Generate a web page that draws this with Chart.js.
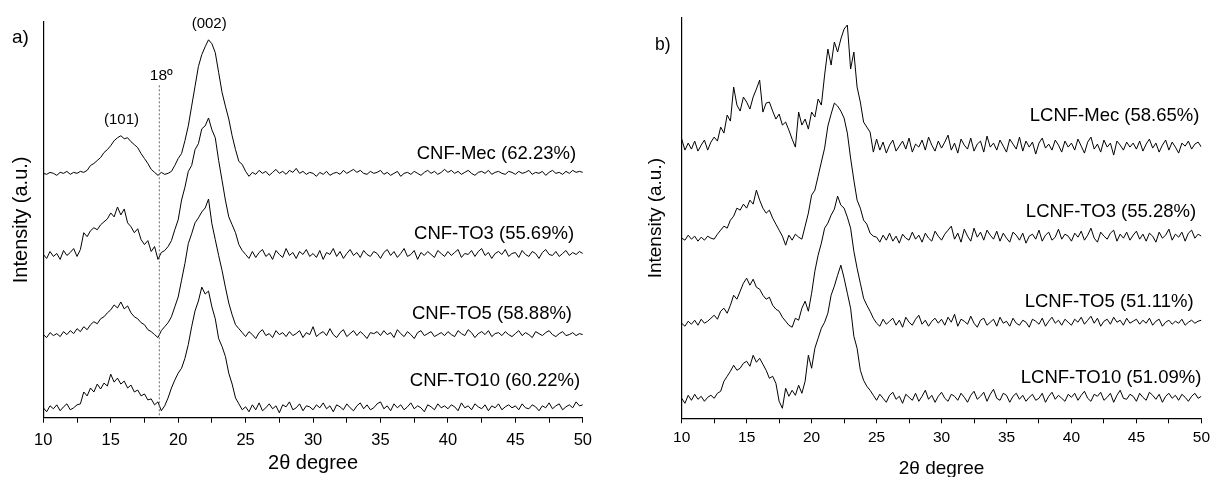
<!DOCTYPE html>
<html>
<head>
<meta charset="utf-8">
<script src="https://cdn.jsdelivr.net/npm/chart.js@4.4.0/dist/chart.umd.min.js"></script>
<style>
  body { margin: 0; background: #fff; width: 1215px; height: 477px; overflow: hidden; position: relative; }
  #wrapA { position: absolute; left: 0; top: 0; width: 600px; height: 477px; }
  #wrapB { position: absolute; left: 610px; top: 0; width: 605px; height: 477px; }
</style>
</head>
<body>
<div id="wrapA"><canvas id="xrdA"></canvas></div>
<div id="wrapB"><canvas id="xrdB"></canvas></div>
<script>
// 2-theta sampling, 10..50 deg
const twoTheta = [
  10, 10.25, 10.5, 10.75, 11, 11.25, 11.5, 11.75, 12, 12.25, 12.5, 12.75, 13, 13.25, 13.5, 13.75, 14, 14.25, 14.5, 14.75,
  15, 15.25, 15.5, 15.75, 16, 16.25, 16.5, 16.75, 17, 17.25, 17.5, 17.75, 18, 18.25, 18.5, 18.75, 19, 19.25, 19.5, 19.75,
  20, 20.25, 20.5, 20.75, 21, 21.25, 21.5, 21.75, 22, 22.25, 22.5, 22.75, 23, 23.25, 23.5, 23.75, 24, 24.25, 24.5, 24.75,
  25, 25.25, 25.5, 25.75, 26, 26.25, 26.5, 26.75, 27, 27.25, 27.5, 27.75, 28, 28.25, 28.5, 28.75, 29, 29.25, 29.5, 29.75,
  30, 30.25, 30.5, 30.75, 31, 31.25, 31.5, 31.75, 32, 32.25, 32.5, 32.75, 33, 33.25, 33.5, 33.75, 34, 34.25, 34.5, 34.75,
  35, 35.25, 35.5, 35.75, 36, 36.25, 36.5, 36.75, 37, 37.25, 37.5, 37.75, 38, 38.25, 38.5, 38.75, 39, 39.25, 39.5, 39.75,
  40, 40.25, 40.5, 40.75, 41, 41.25, 41.5, 41.75, 42, 42.25, 42.5, 42.75, 43, 43.25, 43.5, 43.75, 44, 44.25, 44.5, 44.75,
  45, 45.25, 45.5, 45.75, 46, 46.25, 46.5, 46.75, 47, 47.25, 47.5, 47.75, 48, 48.25, 48.5, 48.75, 49, 49.25, 49.5, 49.75,
  50
];
const xTicks = [10, 15, 20, 25, 30, 35, 40, 45, 50];

// panel a: intensities above each pattern's own baseline (a.u.)
const cnfMec = [
  0, -1, 1, 0, -2, 1, 0, 2, -1, 1, 0, 2, 1, 3, 8, 10, 13, 16, 21, 24,
  28, 33, 36, 38, 35, 36, 32, 29, 26, 20, 15, 10, 4, 1, -2, 1, -1, 0, 2, 8,
  15, 20, 33, 48, 68, 88, 108, 120, 128, 135, 131, 122, 102, 82, 68, 55, 38, 24, 12, 9,
  2, -3, 1, -1, 3, 0, 2, -2, 1, 4, 0, 2, -1, 3, 1, 5, 0, 2, -1, 1,
  0, -3, 1, -1, 2, -2, 0, 1, -1, 3, 0, 2, 4, 1, 3, 0, -1, 2, 0, 1,
  3, -1, 1, -2, 0, 2, -3, 0, 1, -1, 2, 0, -2, 1, 3, 0, 2, -1, 1, 4,
  1, 3, 0, 2, -1, 1, 3, 0, -2, 1, 2, 0, 3, -1, 1, 2, 0, -1, 2, 1,
  -1, 2, 0, 1, 3, -1, 1, 0, 2, -2, 1, 3, 0, 1, -1, 2, 0, 3, 1, 2,
  1
];
const cnfTo3 = [
  0, -4, 3, -2, 1, -5, 4, -1, 2, 6, -2, 5, 22, 18, 24, 27, 25, 30, 33, 36,
  42, 38, 48, 40, 46, 32, 28, 22, 26, 15, 10, 14, 3, 8, -5, 2, 4, 8, 14, 25,
  35, 55, 68, 84, 90, 106, 112, 127, 130, 138, 126, 118, 95, 75, 55, 38, 30, 22, 10, 4,
  0, -4, 3, -3, 2, 5, -2, 1, -5, 4, 0, -3, 6, -1, 2, -4, 3, 0, 5, -2,
  1, -3, 4, -5, 2, 0, 6, -2, 3, -4, 1, 5, -1, 2, -3, 4, 0, -2, 3, 1,
  -4, 2, 5, -1, 3, -3, 1, 6, -2, 0, 4, -5, 2, -1, 3, 0, -3, 4, 1, -2,
  3, -1, 2, 5, -3, 1, 0, 4, -2, 3, 6, -1, 2, -4, 1, 3, 0, 5, -2, 1,
  2, -3, 4, 0, -2, 3, 1, -4, 2, 5, 0, -1, 3, -2, 1, 4, -1, 2, 0, 3,
  1
];
const cnfTo5 = [
  0, -3, 2, -1, 1, -2, 3, 0, 4, 1, 6, 3, 8, 5, 10, 13, 11, 16, 18, 22,
  25, 30, 27, 33, 26, 29, 22, 18, 16, 12, 10, 5, 3, 0, -3, 4, 8, 12, 18, 28,
  38, 55, 72, 92, 102, 113, 118, 124, 128, 137, 112, 96, 80, 65, 48, 32, 20, 10, 6, 2,
  -2, 3, 0, -4, 2, 5, -1, 1, -3, 4, 0, 2, -2, 3, -1, 1, 4, -3, 2, 0,
  8, -2, 1, 3, -1, 6, 0, -3, 2, 5, -2, 1, 4, -1, 3, 0, -4, 2, 1, 3,
  -1, 4, 0, 2, -3, 5, 1, -2, 3, 0, -4, 2, 4, -1, 1, 3, -2, 0, 2, -1,
  3, 0, -2, 4, 1, -1, 5, 2, -3, 1, 3, 0, 4, -2, 1, 2, -1, 3, 0, -2,
  1, 4, -1, 2, 0, -3, 3, 1, -1, 2, 4, 0, -2, 1, 3, -1, 0, 2, -1, 1,
  0
];
const cnfTo10 = [
  0, -4, 2, -1, 3, -3, 1, 4, -2, 0, 3, 4, 16, 12, 20, 16, 24, 19, 25, 22,
  34, 26, 30, 24, 27, 20, 23, 16, 18, 12, 14, 8, 9, 3, 6, -3, 2, 10, 20, 28,
  35, 40, 50, 64, 82, 98, 108, 122, 115, 118, 102, 90, 70, 62, 52, 35, 24, 10, 4, -2,
  1, -4, 3, -2, 5, -3, 0, 4, -1, 2, -5, 3, 1, 6, -2, 0, 4, -3, 2, 1,
  -2, 3, 0, 5, -1, 2, -4, 3, 1, -2, 4, 0, -3, 2, 5, -1, 3, -2, 0, 4,
  6, -1, 2, -3, 4, 0, 3, -2, 1, 5, -1, 2, 0, -4, 3, 1, -2, 4, 0, 2,
  -1, 3, 1, -3, 5, 0, 2, -2, 4, 1, -1, 3, -3, 2, 0, 4, -2, 1, 3, 0,
  2, -2, 4, 0, -1, 3, 1, -3, 2, 0, 5, -1, 2, 4, -2, 1, 3, 0, 6, 2,
  3
];

// panel b
const lcnfMec = [
  8, -3, 4, -2, 6, -4, 2, 7, -3, 5, 10, 6, 20, 14, 32, 26, 60, 42, 36, 50,
  45, 38, 50, 58, 67, 35, 44, 45, 36, 28, 33, 22, 25, 17, 8, 0, 35, 22, 28, 18,
  35, 30, 48, 42, 72, 98, 82, 105, 95, 108, 118, 122, 78, 95, 60, 45, 25, 20, 15, -5,
  8, -3, 5, -6, 2, 7, -4, 1, 6, -2, 9, -5, 3, 0, 7, -3, 10, 2, -4, 6,
  -1, 5, 12, -3, 4, -6, 8, 2, -2, 9, -4, 3, 6, -5, 11, 0, 4, -3, 7, 1,
  -5, 8, 3, -2, 10, -4, 6, 0, 5, -7, 4, 9, -1, 3, -3, 7, 2, -5, 6, 0,
  4, -3, 8, 1, -6, 5, 10, -2, 3, -5, 7, 0, 4, -8, 6, 2, -3, 5, 0, 4,
  -2, 6, -4, 3, 8, -1, 4, -5, 2, 7, -3, 5, 0, -6, 4, 1, 6, -2, 3, 5,
  0
];
const lcnfTo3 = [
  0, -2, 3, -1, 2, -3, 1, -2, 2, 0, -1, 4, 8, 12, 10, 18, 22, 30, 28, 34,
  30, 38, 34, 48, 38, 30, 25, 28, 20, 14, 8, 2, -7, 3, -2, 4, 1, -1, 12, 25,
  43, 48, 62, 76, 90, 112, 124, 135, 132, 127, 120, 105, 80, 58, 38, 30, 18, 14, 5, 2,
  1, -4, 3, -2, 5, -3, 2, -5, 4, 0, -2, 6, -1, 3, -4, 5, 0, -3, 7, 2,
  -2, 4, 8, 12, -1, 5, -4, 9, 2, -3, 10, 1, 6, -2, 8, 3, -1, 7, -3, 5,
  0, -4, 6, 3, -2, 5, -5, 2, 4, -1, 8, -3, 3, 6, -2, 1, 9, -1, 4, 2,
  -3, 5, 1, 7, -2, 3, 10, 0, -4, 6, 2, -1, 5, 8, -3, 4, 0, 6, -2, 3,
  7, -1, 4, -3, 5, 2, -4, 6, 0, 3, 9, -2, 4, 1, 6, -3, 5, 8, 0, 4,
  2
];
const lcnfTo5 = [
  0, -3, 2, -1, 3, -2, 4, 0, 2, 5, 8, 4, 12, 15, 10, 18, 28, 24, 32, 40,
  45, 38, 44, 36, 34, 28, 24, 26, 18, 14, 12, 6, 2, -2, -4, 5, 3, 15, 22, 12,
  30, 52, 68, 80, 95, 100, 108, 114, 127, 118, 115, 106, 95, 72, 55, 40, 25, 18, 12, 5,
  0, -3, 4, -1, 2, 5, -2, 3, -4, 6, 1, -2, 4, 8, -1, 3, -3, 2, 5, 0,
  4, -2, 6, 1, 9, -3, 4, 2, -1, 7, 0, -4, 3, 5, -2, 1, 4, -3, 6, 0,
  2, -3, 5, 0, -2, 3, 1, -4, 4, 2, -1, 5, -3, 2, 6, 0, 3, -2, 4, 1,
  -2, 4, 1, 6, -1, 3, 7, 0, 5, -3, 2, 4, -1, 6, 1, 3, -2, 5, 0, 2,
  4, -1, 3, 0, 5, -2, 2, 4, -3, 1, 3, -1, 2, 0, 4, -2, 1, 3, 0, 2,
  3
];
const lcnfTo10 = [
  0, -5, 3, -2, 4, -1, 2, -3, 1, 3, 0, 5, 7, 17, 22, 27, 33, 28, 30, 35,
  37, 32, 43, 36, 40, 34, 28, 20, 22, 15, -3, -10, 10, 2, 8, 3, 13, 5, 17, 43,
  30, 50, 60, 70, 76, 85, 103, 112, 123, 133, 120, 105, 90, 62, 50, 28, 18, 12, 8, 3,
  -2, 4, 0, -4, 3, 6, -1, 2, -5, 4, 1, -2, 5, -3, 2, 8, -1, 3, -4, 2,
  6, 0, -3, 4, 2, -2, 5, 1, -4, 3, 7, -1, 2, 6, -3, 4, 9, 0, -2, 5,
  3, -4, 2, 5, -1, 3, -3, 1, 4, -2, 0, 5, -4, 2, 6, -1, 3, 0, -3, 4,
  1, 5, -2, 3, 7, 0, -3, 4, 2, 6, -2, 1, 5, -4, 3, 8, 0, -1, 4, 2,
  -3, 5, 1, -2, 6, 3, -1, 4, -4, 2, 5, 0, 3, -2, 4, 1, -3, 2, 5, 0,
  2
];

const namesA = ['CNF-Mec (62.23%)', 'CNF-TO3 (55.69%)', 'CNF-TO5 (58.88%)', 'CNF-TO10 (60.22%)'];
const namesB = ['LCNF-Mec (58.65%)', 'LCNF-TO3 (55.28%)', 'LCNF-TO5 (51.11%)', 'LCNF-TO10 (51.09%)'];
// vertical stacking of the patterns
const offsetsA = [247, 165, 84, 10];
const offsetsB = [271, 180, 95, 20];

const FONT = "'Liberation Sans', Arial, sans-serif";

function stack(series, offsets) {
  return series.map((vals, k) => ({
    data: vals.map((v, i) => ({ x: twoTheta[i], y: v + offsets[k] })),
    borderColor: '#000',
    borderWidth: 1,
    pointRadius: 0,
    tension: 0,
    fill: false
  }));
}

// sample names + peak annotations
const notes = {
  id: 'notes',
  afterDatasetsDraw(chart, args, o) {
    const { ctx } = chart;
    const x = chart.scales.x, y = chart.scales.y;
    ctx.save();
    ctx.fillStyle = '#000';
    ctx.textBaseline = 'middle';
    ctx.font = o.nameFont;
    ctx.textAlign = 'right';
    o.names.forEach((n, k) => {
      ctx.fillText(n, x.getPixelForValue(o.nameAt[k]), y.getPixelForValue(o.offsets[k]) - o.lift[k]);
    });
    if (o.line) {
      ctx.strokeStyle = '#666';
      ctx.lineWidth = 1;
      ctx.setLineDash([2, 2]);
      const px = x.getPixelForValue(o.line.x);
      ctx.beginPath();
      ctx.moveTo(px, y.getPixelForValue(o.line.top));
      ctx.lineTo(px, y.bottom);
      ctx.stroke();
      ctx.setLineDash([]);
    }
    ctx.textAlign = 'center';
    (o.marks || []).forEach(m => {
      ctx.font = m.size + 'px ' + FONT;
      ctx.fillText(m.text, x.getPixelForValue(m.x), y.getPixelForValue(m.y));
    });
    ctx.font = o.tagFont;
    ctx.textAlign = 'left';
    ctx.fillText(o.tag[0], o.tag[1], o.tag[2]);
    ctx.restore();
  }
};

function options(cfg) {
  return {
    responsive: true,
    maintainAspectRatio: false,
    animation: false,
    layout: { padding: { top: cfg.top, right: cfg.right, left: 0, bottom: 0 } },
    plugins: { legend: { display: false }, tooltip: { enabled: false }, notes: cfg.notes },
    scales: {
      x: {
        type: 'linear', min: 10, max: 50,
        afterFit: s => { s.height = cfg.xh; },
        border: { display: true, color: '#000', width: 1.2 },
        grid: { display: true, drawOnChartArea: false, drawTicks: true, tickLength: 5, tickColor: '#000', color: '#000' },
        ticks: {
          stepSize: 2.5, autoSkip: false, maxRotation: 0, padding: cfg.tickPad,
          color: '#000', font: { family: FONT, size: cfg.tickSize },
          callback: v => xTicks.includes(v) ? String(v) : ''
        },
        title: { display: true, text: '2θ degree', color: '#000', font: { family: FONT, size: cfg.titleSize }, padding: { top: 0, bottom: cfg.xTitlePad } }
      },
      y: {
        min: 0, max: 400,
        afterFit: s => { s.width = cfg.yw; },
        border: { display: true, color: '#000', width: 1.2 },
        grid: { display: false },
        ticks: { display: false },
        title: { display: true, text: 'Intensity (a.u.)', color: '#000', font: { family: FONT, size: cfg.titleSize }, padding: { top: cfg.yTitlePad, bottom: 0 } }
      }
    }
  };
}

new Chart(document.getElementById('xrdA'), {
  type: 'line',
  data: { datasets: stack([cnfMec, cnfTo3, cnfTo5, cnfTo10], offsetsA) },
  options: options({
    top: 22, right: 15.5, xh: 59.3, yw: 43.3, tickPad: 8, tickSize: 16.5, titleSize: 20,
    xTitlePad: 2, yTitlePad: 9,
    notes: {
      names: namesA, offsets: offsetsA, nameAt: [49.5, 49.35, 49.2, 49.8], lift: [19, 21, 21, 27],
      nameFont: '18.5px ' + FONT,
      line: { x: 18.6, top: 336 },
      marks: [
        { text: '(101)', x: 15.8, y: 301, size: 15 },
        { text: '(002)', x: 22.3, y: 398, size: 15 },
        { text: '18º', x: 18.75, y: 346, size: 15.5 }
      ],
      tag: ['a)', 12, 38], tagFont: '19px ' + FONT
    }
  }),
  plugins: [notes]
});

new Chart(document.getElementById('xrdB'), {
  type: 'line',
  data: { datasets: stack([lcnfMec, lcnfTo3, lcnfTo5, lcnfTo10], offsetsB) },
  options: options({
    top: 18, right: 8, xh: 58.7, yw: 71.7, tickPad: 5, tickSize: 15.5, titleSize: 19,
    xTitlePad: -3, yTitlePad: 34,
    notes: {
      names: namesB, offsets: offsetsB, nameAt: [49.85, 49.6, 49.4, 50], lift: [31, 26, 21, 20],
      nameFont: '18.5px ' + FONT,
      marks: [],
      tag: ['b)', 45, 45], tagFont: '17.5px ' + FONT
    }
  }),
  plugins: [notes]
});
</script>
</body>
</html>
